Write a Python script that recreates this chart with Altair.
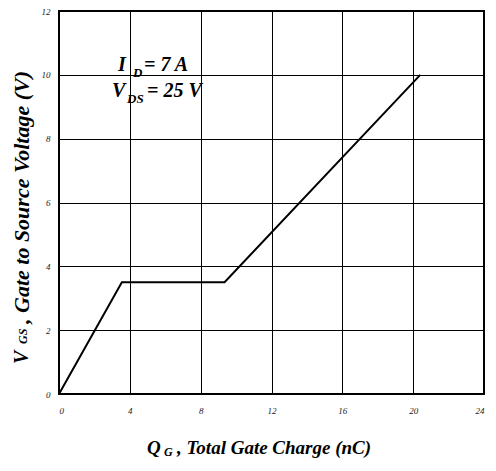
import altair as alt
import pandas as pd

# Curve data (gate charge nC, gate-source voltage V)
qg = [0.0, 3.55, 9.35, 20.4]
vgs = [0.0, 3.5, 3.5, 10.0]

x_ticks = [0, 4, 8, 12, 16, 20, 24]
y_ticks = [0, 2, 4, 6, 8, 10, 12]

FONT = "Liberation Serif"

df = pd.DataFrame({"qg": qg, "vgs": vgs, "order": range(len(qg))})

xs = alt.Scale(domain=[0, 24], nice=False, zero=False)
ys = alt.Scale(domain=[0, 12], nice=False, zero=False)

base = alt.Chart(df)

line = base.mark_line(color="black", strokeWidth=2).encode(
    x=alt.X("qg:Q", scale=xs, axis=alt.Axis(values=x_ticks, title=None, grid=True,
                                              labelPadding=12, ticks=False, domain=False,
                                              labelFont=FONT, labelFontStyle="italic",
                                              labelFontSize=9, labelColor="#222")),
    y=alt.Y("vgs:Q", scale=ys, axis=alt.Axis(values=y_ticks, title=None, grid=True,
                                               labelPadding=9, ticks=False, domain=False,
                                               labelFont=FONT, labelFontStyle="italic",
                                               labelFontSize=9, labelColor="#222")),
    order="order:Q",
)

# Annotation pieces (text, x data, y data, size)
ann_text = ["I", "D", "= 7 A", "V", "DS", "= 25 V"]
ann_x = [3.33, 4.18, 4.80, 2.99, 3.84, 4.97]
ann_y = [10.12, 9.93, 10.12, 9.30, 9.11, 9.30]
ann_size = [20, 13, 20, 20, 13, 20]

ann_layers = []
for t, ax_, ay_, s in zip(ann_text, ann_x, ann_y, ann_size):
    ann_layers.append(
        alt.Chart(pd.DataFrame({"x": [ax_], "y": [ay_], "t": [t]})).mark_text(
            font=FONT, fontStyle="italic", fontWeight="bold", fontSize=s,
            align="left", baseline="alphabetic", color="black"
        ).encode(x=alt.X("x:Q", scale=xs), y=alt.Y("y:Q", scale=ys), text="t:N")
    )

def label(t, px, py, size, angle=0):
    return alt.Chart(pd.DataFrame({"t": [t]})).mark_text(
        font=FONT, fontStyle="italic", fontWeight="bold", fontSize=size,
        align="left", baseline="alphabetic", color="black", angle=angle
    ).encode(x=alt.value(px), y=alt.value(py), text="t:N")

title_layers = [
    label("Q", 88, 443, 19),
    label("G", 105, 445, 12),
    label(", Total Gate Charge (nC)", 118, 443, 19),
    label("V", -31, 353, 20, 270),
    label("GS", -32, 333, 12, 270),
    label(", Gate to Source Voltage (V)", -30, 313, 22, 270),
]

chart = alt.layer(line, *ann_layers, *title_layers).properties(
    width=425, height=383,
    autosize=alt.AutoSizeParams(type="none"),
    padding={"left": 51, "top": 3, "right": 4, "bottom": 67},
).configure_view(
    stroke="black", strokeWidth=2
).configure_axis(
    gridColor="black", gridOpacity=1, gridWidth=1
)

chart.save("out.html", embed_options={"renderer": "svg", "actions": False})
